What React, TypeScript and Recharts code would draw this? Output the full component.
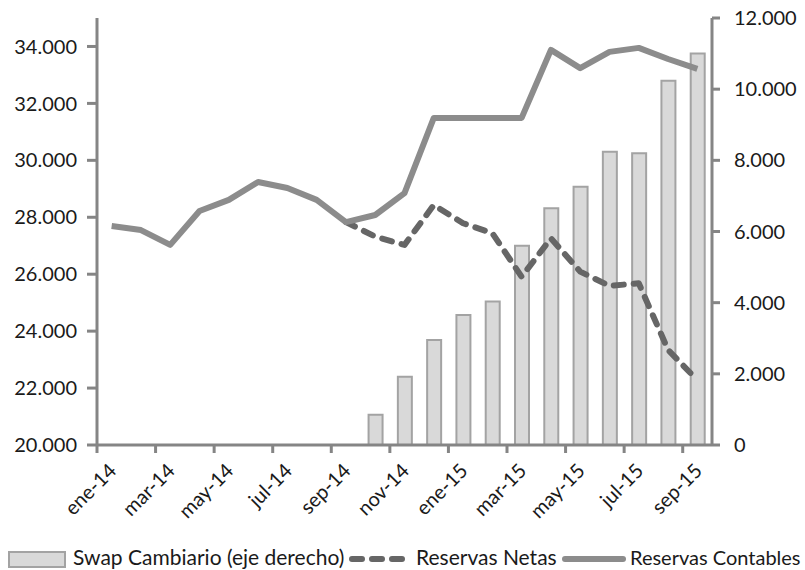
import {
  Bar,
  ComposedChart,
  Line,
  XAxis,
  YAxis,
} from "recharts";

const months = [
  "ene-14", "feb-14", "mar-14", "abr-14", "may-14", "jun-14", "jul-14",
  "ago-14", "sep-14", "oct-14", "nov-14", "dic-14", "ene-15", "feb-15",
  "mar-15", "abr-15", "may-15", "jun-15", "jul-15", "ago-15", "sep-15",
];

// eje derecho
const swapCambiario = [
  null, null, null, null, null, null, null, null, null,
  850, 1920, 2950, 3650, 4030, 5600, 6650, 7260, 8240, 8200, 10240, 11000,
];

const reservasNetas = [
  null, null, null, null, null, null, null, null,
  27830, 27320, 27030, 28430, 27790, 27440, 25910, 27260, 26090, 25590,
  25680, 23340, 22280,
];

const reservasContables = [
  27690, 27550, 27030, 28220, 28610, 29240, 29030, 28610, 27830, 28080,
  28850, 31490, 31490, 31490, 31490, 33880, 33240, 33810, 33950, 33560,
  33210,
];

const leftTicks = [20000, 22000, 24000, 26000, 28000, 30000, 32000, 34000];
const rightTicks = [0, 2000, 4000, 6000, 8000, 10000, 12000];

const data = months.map((m, i) => ({
  month: m,
  swap: swapCambiario[i],
  netas: reservasNetas[i],
  contables: reservasContables[i],
}));

const W = 805;
const H = 570;
const LEFT_W = 97;
const RIGHT_W = 93;
const TOP = 18;
const X_H = 125;
const PLOT_W = W - LEFT_W - RIGHT_W;
const AXIS = "#858585";
const FONT = "Lato, 'Open Sans', sans-serif";
const TXT = "#1a1a1a";

const fmt = (v: number) => v.toLocaleString("de-DE");

const XTick = ({ x, y, payload }: any) => {
  const bw = PLOT_W / months.length;
  const bx = x - bw / 2;
  return (
    <g>
      <line x1={bx} x2={bx} y1={y} y2={y + 8} stroke={AXIS} strokeWidth={3} />
      <text
        transform={`translate(${x + 6},${y + 27}) rotate(-45)`}
        textAnchor="end"
        fontSize={20}
        fontFamily={FONT}
        fill={TXT}
      >
        {payload.value}
      </text>
    </g>
  );
};

const Legend = () => (
  <div
    style={{
      position: "absolute",
      left: 0,
      top: 543,
      width: W,
      height: 27,
      fontFamily: FONT,
      fontSize: 21,
      color: TXT,
    }}
  >
    <svg
      width={58}
      height={17}
      style={{ position: "absolute", left: 8, top: 8 }}
    >
      <rect x={1} y={1} width={56} height={15} fill="#d9d9d9" stroke="#a3a3a3" strokeWidth={2} />
    </svg>
    <span style={{ position: "absolute", left: 73, top: 1, whiteSpace: "nowrap" }}>
      Swap Cambiario (eje derecho)
    </span>
    <svg width={62} height={10} style={{ position: "absolute", left: 349, top: 11 }}>
      <line x1={3} x2={59} y1={5} y2={5} stroke="#666" strokeWidth={6} strokeDasharray="10 10" strokeLinecap="round" />
    </svg>
    <span style={{ position: "absolute", left: 416, top: 1, whiteSpace: "nowrap" }}>
      Reservas Netas
    </span>
    <svg width={64} height={10} style={{ position: "absolute", left: 562, top: 11 }}>
      <line x1={3} x2={61} y1={5} y2={5} stroke="#8c8c8c" strokeWidth={6} strokeLinecap="round" />
    </svg>
    <span style={{ position: "absolute", left: 630, top: 2, fontSize: 20, whiteSpace: "nowrap" }}>
      Reservas Contables
    </span>
  </div>
);

export default function App() {
  return (
    <div style={{ position: "absolute", left: 0, top: 0, width: W, height: H, background: "#fff", overflow: "hidden" }}>
      <ComposedChart
        width={W}
        height={H}
        data={data}
        margin={{ top: TOP, right: 0, left: 0, bottom: 0 }}
        barSize={14}
      >
        <XAxis
          dataKey="month"
          interval={1}
          height={X_H}
          tickSize={0}
          tickMargin={0}
          tickLine={false}
          axisLine={{ stroke: AXIS, strokeWidth: 3 }}
          tick={<XTick />}
        />
        <YAxis
          yAxisId="left"
          width={LEFT_W}
          domain={[20000, 35000]}
          ticks={leftTicks}
          tickFormatter={fmt}
          tickSize={10}
          tickMargin={10}
          axisLine={{ stroke: AXIS, strokeWidth: 3 }}
          tickLine={{ stroke: AXIS, strokeWidth: 3 }}
          tick={{ fill: TXT, fontSize: 20, fontFamily: FONT }}
        />
        <YAxis
          yAxisId="right"
          orientation="right"
          width={RIGHT_W}
          domain={[0, 12000]}
          ticks={rightTicks}
          tickFormatter={fmt}
          tickSize={8}
          tickMargin={14}
          axisLine={{ stroke: AXIS, strokeWidth: 3 }}
          tickLine={{ stroke: AXIS, strokeWidth: 3 }}
          tick={{ fill: TXT, fontSize: 20, fontFamily: FONT, textAnchor: "start" }}
        />
        <Bar
          yAxisId="right"
          dataKey="swap"
          fill="#d9d9d9"
          stroke="#a3a3a3"
          strokeWidth={2}
          isAnimationActive={false}
        />
        <Line
          yAxisId="left"
          dataKey="netas"
          stroke="#666666"
          strokeWidth={6}
          strokeDasharray="10 10"
          strokeLinecap="round"
          strokeLinejoin="round"
          dot={false}
          isAnimationActive={false}
        />
        <Line
          yAxisId="left"
          dataKey="contables"
          stroke="#8c8c8c"
          strokeWidth={6}
          strokeLinejoin="round"
          dot={false}
          isAnimationActive={false}
        />
      </ComposedChart>
      <Legend />
    </div>
  );
}
